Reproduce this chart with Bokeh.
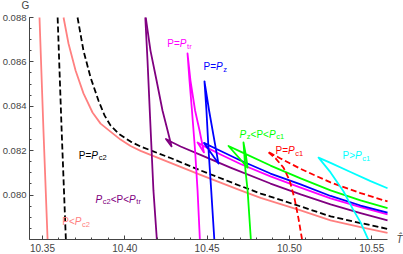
from bokeh.plotting import figure
from bokeh.models import Range1d, FixedTicker, PrintfTickFormatter, Label
from bokeh.embed import file_html
from bokeh.resources import INLINE

# ---------------- data (T-hat, G) ----------------
x_lim = (10.3421, 10.5596)      # extent of the drawn T axis
y_lim = (0.078, 0.088)          # extent of the drawn G axis
view_x = (10.3245, 10.5693)     # whole canvas in data units
view_y = (0.077323, 0.088766)
x_ticks = [10.35, 10.40, 10.45, 10.50, 10.55]
y_ticks = [0.080, 0.082, 0.084, 0.086, 0.088]

# P < Pc2 (two branches)
salmon_left_T = [10.3480, 10.3506, 10.3532]
salmon_left_G = [0.0884, 0.0829, 0.0778]
salmon_right_T = [10.3625, 10.3628, 10.3658, 10.3701, 10.3749, 10.3804, 10.3853, 10.3913, 10.3974,
                  10.4035, 10.4096, 10.4278, 10.4460, 10.4703, 10.4825, 10.5068, 10.5250, 10.5432, 10.5614]
salmon_right_G = [0.08832, 0.08800, 0.08683, 0.08561, 0.08458, 0.08372, 0.08322, 0.08286, 0.08250,
                  0.08221, 0.08199, 0.08145, 0.08091, 0.08021, 0.07987, 0.07931, 0.07886, 0.07856, 0.07827]

# P = Pc2 (dashed black)
black_left_T = [10.3591, 10.3616, 10.3643]
black_left_G = [0.08823, 0.08300, 0.07782]
black_right_T = [10.3710, 10.3713, 10.3749, 10.3792, 10.3840, 10.3877, 10.3913, 10.3962, 10.4035,
                 10.4096, 10.4278, 10.4460, 10.4703, 10.4825, 10.5068, 10.5250, 10.5432, 10.5614]
black_right_G = [0.08832, 0.08800, 0.08651, 0.08530, 0.08426, 0.08359, 0.08314, 0.08277, 0.08241,
                 0.08219, 0.08167, 0.08111, 0.08041, 0.08007, 0.07949, 0.07904, 0.07874, 0.07845]

# Pc2 < P < Ptr
purple_T = [10.4196, 10.4174, 10.4153, 10.4138, 10.4123, 10.4156, 10.4193, 10.4229, 10.4260, 10.4284,
            10.4250, 10.4290, 10.4339, 10.4460, 10.4642, 10.4885, 10.5068, 10.5250, 10.5432, 10.5614]
purple_G = [0.07786, 0.08021, 0.08359, 0.08606, 0.08823, 0.08651, 0.08516, 0.08381, 0.08291, 0.08219,
            0.08253, 0.08237, 0.08219, 0.08181, 0.08124, 0.08052, 0.08003, 0.07958, 0.07919, 0.07883]

# P = Ptr
magenta_T = [10.4457, 10.4442, 10.4427, 10.4408, 10.4393, 10.4381, 10.4399, 10.4427, 10.4454, 10.4481,
             10.4442, 10.4490, 10.4582, 10.4703, 10.4885, 10.5068, 10.5250, 10.5432, 10.5614]
magenta_G = [0.07786, 0.08021, 0.08201, 0.08381, 0.08516, 0.08638, 0.08516, 0.08381, 0.08291, 0.08192,
             0.08237, 0.08217, 0.08183, 0.08140, 0.08084, 0.08034, 0.07985, 0.07946, 0.07910]

# P = Pz
blue_T = [10.4545, 10.4525, 10.4509, 10.4496, 10.4484, 10.4512, 10.4539, 10.4569,
          10.4481, 10.4551, 10.4703, 10.4885, 10.5068, 10.5250, 10.5432, 10.5614]
blue_G = [0.07786, 0.08021, 0.08201, 0.08381, 0.08512, 0.08381, 0.08268, 0.08142,
          0.08235, 0.08210, 0.08156, 0.08097, 0.08048, 0.07996, 0.07953, 0.07917]

# Pz < P < Pc1
green_T = [10.4767, 10.4746, 10.4733, 10.4721, 10.4736, 10.4746, 10.4630,
           10.4703, 10.4885, 10.5068, 10.5250, 10.5432, 10.5614]
green_G = [0.07786, 0.08021, 0.08111, 0.08237, 0.08178, 0.08124, 0.08221,
           0.08196, 0.08133, 0.08075, 0.08021, 0.07976, 0.07937]

# P = Pc1 (dashed red)
red_T = [10.5080, 10.5055, 10.5031, 10.5001, 10.4964, 10.4916, 10.4867,
         10.4946, 10.5068, 10.5250, 10.5432, 10.5614]
red_G = [0.07786, 0.07895, 0.07985, 0.08066, 0.08124, 0.08165, 0.08196,
         0.08165, 0.08118, 0.08057, 0.08009, 0.07967]

# P > Pc1
cyan_T = [10.5487, 10.5432, 10.5383, 10.5329, 10.5250, 10.5177, 10.5250, 10.5371, 10.5493, 10.5614]
cyan_G = [0.07786, 0.07877, 0.07940, 0.08016, 0.08102, 0.08169, 0.08145, 0.08104, 0.08063, 0.08025]

# curve labels: (T, G) anchor at left/baseline, pieces (text, kind), colour
# kind: "n" normal, "i" italic, "s" subscript
label_specs = [
    (10.3721, 0.08180, [("P=", "n"), ("P", "i"), ("c2", "s")], "#000000"),
    (10.3822, 0.07982, [("P", "i"), ("c2", "s"), ("<P<", "n"), ("P", "i"), ("tr", "s")], "#800080"),
    (10.3620, 0.07880, [("P<", "n"), ("P", "i"), ("c2", "s")], "#FF8080"),
    (10.4258, 0.08681, [("P=", "n"), ("P", "i"), ("tr", "s")], "#FF00FF"),
    (10.4478, 0.08579, [("P=", "n"), ("P", "i"), ("z", "s")], "#0000FF"),
    (10.4697, 0.08273, [("P", "i"), ("z", "s"), ("<P<", "n"), ("P", "i"), ("c1", "s")], "#00FF00"),
    (10.4916, 0.08199, [("P=", "n"), ("P", "i"), ("c1", "s")], "#FF0000"),
    (10.5323, 0.08178, [("P>", "n"), ("P", "i"), ("c1", "s")], "#00FFFF"),
]

FONT = "Liberation Sans"
AX = "#444444"


def clip(xs, ys):
    """Split a polyline into the pieces that lie inside the axes box."""
    x0, x1 = x_lim
    y0, y1 = y_lim
    pieces, cur = [], []
    for i in range(len(xs) - 1):
        ax, ay, bx, by = xs[i], ys[i], xs[i + 1], ys[i + 1]
        dx, dy = bx - ax, by - ay
        t0, t1, ok = 0.0, 1.0, True
        for pp, qq in ((-dx, ax - x0), (dx, x1 - ax), (-dy, ay - y0), (dy, y1 - ay)):
            if pp == 0:
                if qq < 0:
                    ok = False
                    break
            else:
                r = qq / pp
                if pp < 0:
                    if r > t1:
                        ok = False
                        break
                    t0 = max(t0, r)
                else:
                    if r < t0:
                        ok = False
                        break
                    t1 = min(t1, r)
        if not ok:
            if cur:
                pieces.append(cur)
                cur = []
            continue
        s = (ax + t0 * dx, ay + t0 * dy)
        e = (ax + t1 * dx, ay + t1 * dy)
        if not cur:
            cur = [s]
        elif t0 > 0:
            pieces.append(cur)
            cur = [s]
        cur.append(e)
        if t1 < 1:
            pieces.append(cur)
            cur = []
    if cur:
        pieces.append(cur)
    return [[q[0] for q in pc] for pc in pieces], [[q[1] for q in pc] for pc in pieces]


p = figure(width=403, height=254, output_backend="svg", toolbar_location=None,
           x_range=Range1d(*view_x), y_range=Range1d(*view_y), min_border=0)
p.outline_line_color = None
p.xgrid.visible = False
p.ygrid.visible = False
p.background_fill_color = "white"

# axes, fixed inside the canvas
xmin = [round(10.35 + 0.01 * i, 2) for i in range(21)]
ymin = [round(0.078 + 0.0005 * i, 4) for i in range(21)]
xa, ya = p.xaxis[0], p.yaxis[0]
xa.fixed_location = y_lim[0]
ya.fixed_location = x_lim[0]
xa.bounds = x_lim
ya.bounds = y_lim
xa.ticker = FixedTicker(ticks=x_ticks, minor_ticks=xmin)
ya.ticker = FixedTicker(ticks=y_ticks, minor_ticks=ymin)
xa.formatter = PrintfTickFormatter(format="%.2f")
ya.formatter = PrintfTickFormatter(format="%.3f")
for ax in (xa, ya):
    ax.axis_line_color = AX
    ax.major_tick_line_color = AX
    ax.minor_tick_line_color = AX
    ax.major_tick_in = 4
    ax.major_tick_out = 0
    ax.minor_tick_in = 2
    ax.minor_tick_out = 0
    ax.major_label_text_color = AX
    ax.major_label_text_font = FONT
xa.major_label_text_font_size = "10px"
xa.major_label_standoff = 5
ya.major_label_text_font_size = "9.5px"
ya.major_label_standoff = 3

p.add_layout(Label(x=x_lim[0], y=y_lim[1], x_offset=-4, y_offset=12, text="G", text_font=FONT,
                   text_font_size="10px", text_color=AX, text_align="center", text_baseline="middle"))
p.add_layout(Label(x=x_lim[1], y=y_lim[0], x_offset=12, y_offset=0, text="T\u0302", text_font=FONT,
                   text_font_size="10px", text_font_style="italic", text_color=AX,
                   text_align="center", text_baseline="middle"))

# curves
LW = 1.8
curves = [
    (salmon_left_T, salmon_left_G, "#FF8080", "solid"),
    (salmon_right_T, salmon_right_G, "#FF8080", "solid"),
    (black_left_T, black_left_G, "black", "6 3"),
    (black_right_T, black_right_G, "black", "6 3"),
    (purple_T, purple_G, "#800080", "solid"),
    (magenta_T, magenta_G, "#FF00FF", "solid"),
    (blue_T, blue_G, "#0000FF", "solid"),
    (green_T, green_G, "#00FF00", "solid"),
    (red_T, red_G, "#FF0000", "6 3"),
    (cyan_T, cyan_G, "#00FFFF", "solid"),
]
for T, G, col, dash in curves:
    xs, ys = clip(T, G)
    p.multi_line(xs, ys, line_color=col, line_width=LW, line_dash=dash, line_join="round")

# curve labels built from pieces
WIDTHS = {"P": 0.667, "=": 0.584, "<": 0.584, ">": 0.584, "c": 0.5, "1": 0.556,
          "2": 0.556, "t": 0.278, "r": 0.333, "z": 0.5}
for x, y, pieces, col in label_specs:
    off = 0.0
    for txt, kind in pieces:
        sub = kind == "s"
        size = 7.5 if sub else 10
        p.add_layout(Label(x=x, y=y, x_offset=off, y_offset=-2.5 if sub else 0, text=txt,
                           text_font=FONT, text_font_size=f"{size}px",
                           text_font_style="italic" if kind == "i" else "normal",
                           text_color=col, text_align="left", text_baseline="alphabetic"))
        off += sum(WIDTHS.get(c, 0.55) for c in txt) * size + (0.6 if kind == "i" else 0)

open("out.html", "w").write(file_html(p, INLINE))
